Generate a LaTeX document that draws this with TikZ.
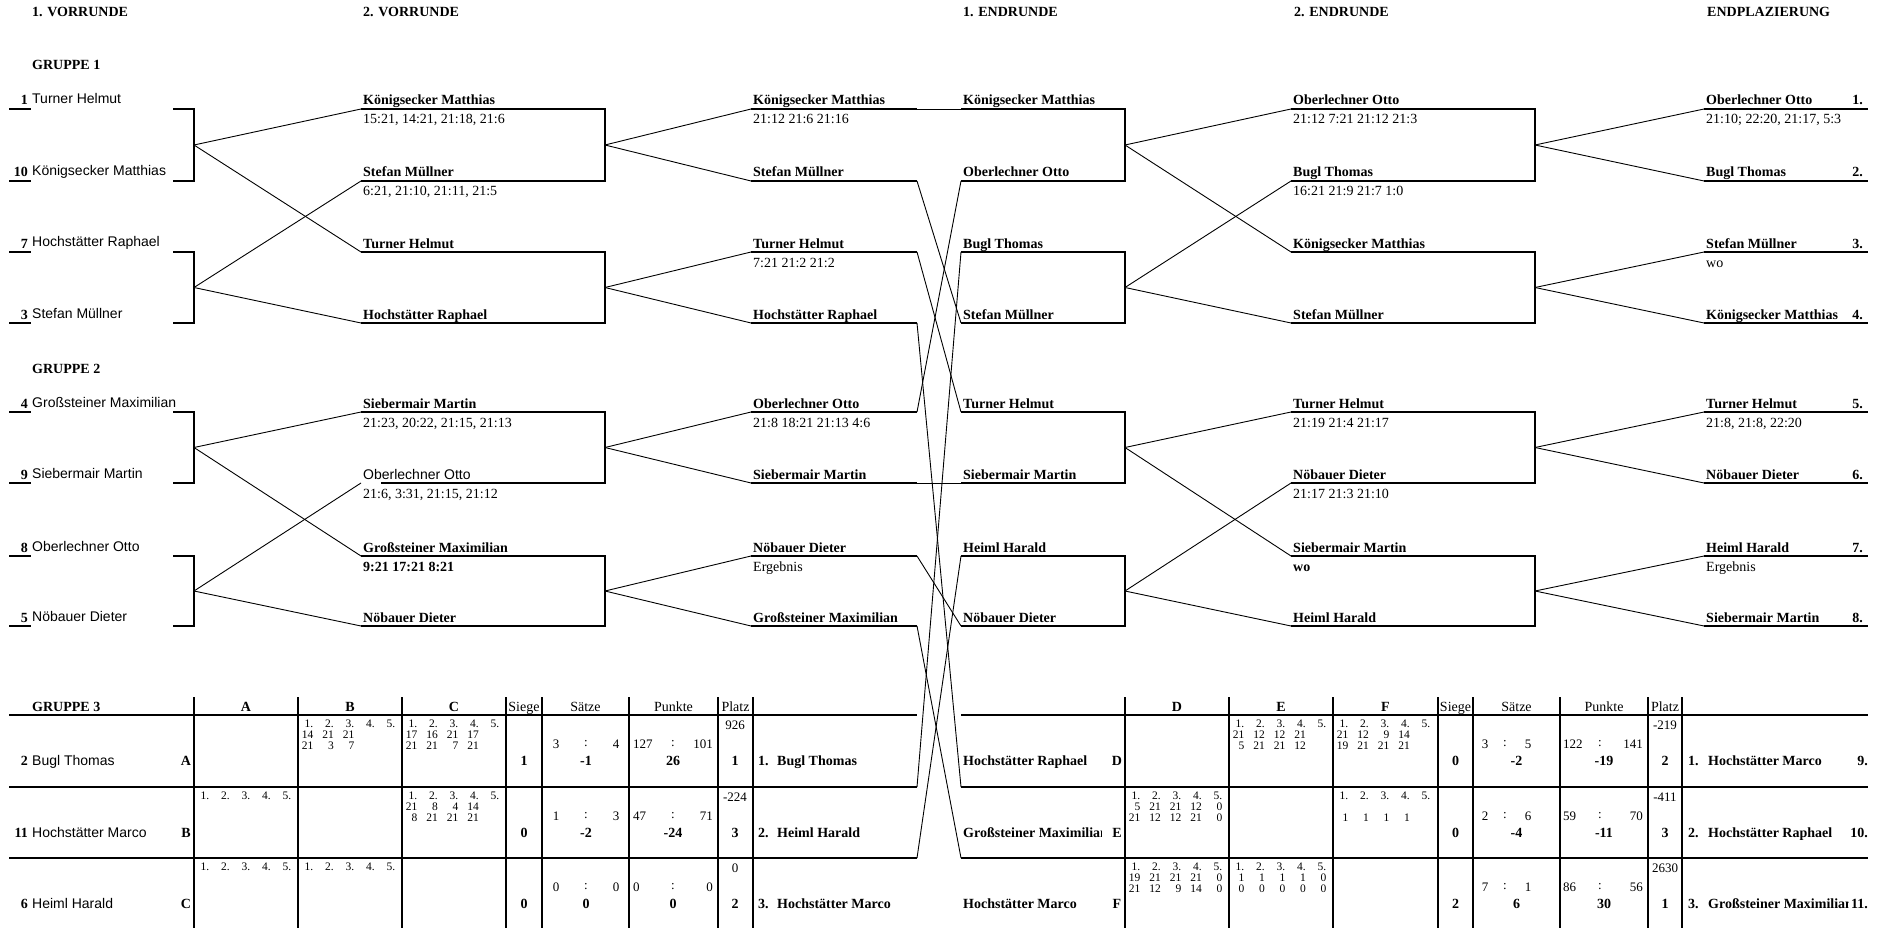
\documentclass[tikz,border=0pt]{standalone}
\usepackage{fontspec}
\setmainfont{Liberation Serif}
\newfontfamily\arialf{Liberation Sans}
\newcommand\fsz{\fontsize{14}{16}\selectfont}
\newcommand\fsm{\fontsize{11.5}{13}\selectfont}
\newcommand\fst{\fontsize{13}{14}\selectfont}
\newcommand\numrow[4]{\foreach \v [count=\k from 0] in {#4}{\node[tn] (#1-\k) at ({#2+15.5+20.5*\k},#3) {\v};}}
\begin{document}
\begin{tikzpicture}[x=1pt,y=-1pt,
 thk/.style={line width=2.8pt},
 thn/.style={line width=0.9pt},
 hd/.style={anchor=base west,inner sep=0pt,font=\fsz\bfseries},
 nm/.style={anchor=base west,inner sep=0pt,font=\fsz\bfseries},
 snm/.style={anchor=base west,inner sep=0pt,font=\fsz\arialf},
 sc/.style={anchor=base west,inner sep=0pt,font=\fsz},
 rk/.style={anchor=base east,inner sep=0pt,font=\fsz\bfseries},
 tn/.style={anchor=east,inner sep=0pt,font=\fsm},
 tv/.style={anchor=center,inner sep=0pt,font=\fst},
 tb/.style={anchor=base,inner sep=0pt,font=\fsz\bfseries},
 th/.style={anchor=base,inner sep=0pt,font=\fsz},
]
\useasboundingbox (0,0) rectangle (1887,928);

% ---------- headers
\node[hd] (h1) at (32,17) {1. VORRUNDE};
\node[hd] (h2) at (363,17) {2. VORRUNDE};
\node[hd] (h3) at (963,17) {1. ENDRUNDE};
\node[hd] (h4) at (1294,17) {2. ENDRUNDE};
\node[hd] (h5) at (1707,17) {ENDPLAZIERUNG};
\node[hd] (g1) at (32,70) {GRUPPE 1};
\node[hd] (g2) at (32,373) {GRUPPE 2};
\node[hd] (g3) at (32,711) {GRUPPE 3};

% ---------- coordinates of line starts
\foreach \y [count=\i] in {109,181,252,323,412,483,556,626}{
  \coordinate (s2-\i) at (361,\y);
  \coordinate (s3-\i) at (751,\y);
  \coordinate (e3-\i) at (917,\y);
  \coordinate (s4-\i) at (961,\y);
  \coordinate (s5-\i) at (1291,\y);
  \coordinate (s6-\i) at (1704,\y);
}

% ---------- column 1
\foreach \y/\n/\t [count=\i] in {109/1/Turner Helmut,181/10/Königsecker Matthias,252/7/Hochstätter Raphael,323/3/Stefan Müllner,412/4/Großsteiner Maximilian,483/9/Siebermair Martin,556/8/Oberlechner Otto,626/5/Nöbauer Dieter}{
  \draw[thk] (9,\y) -- (31,\y);
  \node[rk] (pn\i) at (28,\y-4) {\n};
  \node[snm] (pt\i) at (32,\y-5) {\t};
}
\foreach \a/\b [count=\i] in {109/181,252/323,412/483,556/626}{
  \draw[thk] (173,\a) -- (194,\a) -- (194,\b) -- (173,\b);
  \coordinate (k\i) at (194,{(\a+\b)/2});
}

% ---------- column 2
\draw[thk] (361,109) -- (605,109) -- (605,181) -- (361,181);
\draw[thk] (361,252) -- (605,252) -- (605,323) -- (361,323);
\draw[thk] (361,412) -- (605,412) -- (605,483) -- (381,483);
\draw[thk] (361,556) -- (605,556) -- (605,626) -- (361,626);
\foreach \a/\b [count=\i] in {109/181,252/323,412/483,556/626}{
  \coordinate (m2-\i) at (605,{(\a+\b)/2});
}
\foreach \y/\t [count=\i] in {109/Königsecker Matthias,181/Stefan Müllner,252/Turner Helmut,323/Hochstätter Raphael,412/Siebermair Martin,556/Großsteiner Maximilian,626/Nöbauer Dieter}{
  \node[nm] (n2-\i) at (363,\y-4) {\t};
}
\node[snm] (n2-o) at (363,479) {Oberlechner Otto};
\node[sc] (sc2a) at (363,124) {15:21, 14:21, 21:18, 21:6};
\node[sc] (sc2b) at (363,196) {6:21, 21:10, 21:11, 21:5};
\node[sc] (sc2e) at (363,427) {21:23, 20:22, 21:15, 21:13};
\node[sc] (sc2f) at (363,498) {21:6, 3:31, 21:15, 21:12};
\node[sc,font=\fsz\bfseries] (sc2g) at (363,571) {9:21 17:21 8:21};

\draw[thn] (k1) -- (s2-1);
\draw[thn] (k1) -- (s2-3);
\draw[thn] (k2) -- (s2-2);
\draw[thn] (k2) -- (s2-4);
\draw[thn] (k3) -- (s2-5);
\draw[thn] (k3) -- (s2-7);
\draw[thn] (k4) -- (s2-6);
\draw[thn] (k4) -- (s2-8);

% ---------- column 3
\foreach \y/\t [count=\i] in {109/Königsecker Matthias,181/Stefan Müllner,252/Turner Helmut,323/Hochstätter Raphael,412/Oberlechner Otto,483/Siebermair Martin,556/Nöbauer Dieter,626/Großsteiner Maximilian}{
  \draw[thk] (s3-\i) -- (e3-\i);
  \node[nm] (n3-\i) at (753,\y-4) {\t};
}
\node[sc] (sc3a) at (753,124) {21:12 21:6 21:16};
\node[sc] (sc3c) at (753,267) {7:21 21:2 21:2};
\node[sc] (sc3e) at (753,427) {21:8 18:21 21:13 4:6};
\node[sc] (sc3g) at (753,571) {Ergebnis};

\draw[thn] (m2-1) -- (s3-1);
\draw[thn] (m2-1) -- (s3-2);
\draw[thn] (m2-2) -- (s3-3);
\draw[thn] (m2-2) -- (s3-4);
\draw[thn] (m2-3) -- (s3-5);
\draw[thn] (m2-3) -- (s3-6);
\draw[thn] (m2-4) -- (s3-7);
\draw[thn] (m2-4) -- (s3-8);

% ---------- column 4
\foreach \a/\b [count=\i] in {109/181,252/323,412/483,556/626}{
  \draw[thk] (961,\a) -- (1125,\a) -- (1125,\b) -- (961,\b);
  \coordinate (m4-\i) at (1125,{(\a+\b)/2});
}
\foreach \y/\t [count=\i] in {109/Königsecker Matthias,181/Oberlechner Otto,252/Bugl Thomas,323/Stefan Müllner,412/Turner Helmut,483/Siebermair Martin,556/Heiml Harald,626/Nöbauer Dieter}{
  \node[nm] (n4-\i) at (963,\y-4) {\t};
}

% table attachment points
\coordinate (tA) at (917,787);
\coordinate (tB) at (917,858);
\coordinate (tD) at (961,787);
\coordinate (tE) at (961,858);

\draw[thn] (e3-1) -- (s4-1);
\draw[thn] (e3-2) -- (s4-4);
\draw[thn] (e3-3) -- (s4-5);
\draw[thn] (e3-4) -- (tD);
\draw[thn] (e3-5) -- (s4-2);
\draw[thn] (e3-6) -- (s4-6);
\draw[thn] (e3-7) -- (s4-8);
\draw[thn] (e3-8) -- (tE);
\draw[thn] (tA) -- (s4-3);
\draw[thn] (tB) -- (s4-7);

% ---------- column 5
\foreach \a/\b [count=\i] in {109/181,252/323,412/483,556/626}{
  \draw[thk] (1291,\a) -- (1535,\a) -- (1535,\b) -- (1291,\b);
  \coordinate (m5-\i) at (1535,{(\a+\b)/2});
}
\foreach \y/\t [count=\i] in {109/Oberlechner Otto,181/Bugl Thomas,252/Königsecker Matthias,323/Stefan Müllner,412/Turner Helmut,483/Nöbauer Dieter,556/Siebermair Martin,626/Heiml Harald}{
  \node[nm] (n5-\i) at (1293,\y-4) {\t};
}
\node[sc] (sc5a) at (1293,124) {21:12 7:21 21:12 21:3};
\node[sc] (sc5b) at (1293,196) {16:21 21:9 21:7 1:0};
\node[sc] (sc5e) at (1293,427) {21:19 21:4 21:17};
\node[sc] (sc5f) at (1293,498) {21:17 21:3 21:10};
\node[sc,font=\fsz\bfseries] (sc5g) at (1293,571) {wo};

\draw[thn] (m4-1) -- (s5-1);
\draw[thn] (m4-1) -- (s5-3);
\draw[thn] (m4-2) -- (s5-2);
\draw[thn] (m4-2) -- (s5-4);
\draw[thn] (m4-3) -- (s5-5);
\draw[thn] (m4-3) -- (s5-7);
\draw[thn] (m4-4) -- (s5-6);
\draw[thn] (m4-4) -- (s5-8);

% ---------- column 6
\foreach \y/\t/\r [count=\i] in {109/Oberlechner Otto/1.,181/Bugl Thomas/2.,252/Stefan Müllner/3.,323/Königsecker Matthias/4.,412/Turner Helmut/5.,483/Nöbauer Dieter/6.,556/Heiml Harald/7.,626/Siebermair Martin/8.}{
  \draw[thk] (s6-\i) -- (1868,\y);
  \node[nm] (n6-\i) at (1706,\y-4) {\t};
  \node[rk] (r6-\i) at (1863,\y-4) {\r};
}
\node[sc] (sc6a) at (1706,124) {21:10; 22:20, 21:17, 5:3};
\node[sc] (sc6c) at (1706,267) {wo};
\node[sc] (sc6e) at (1706,427) {21:8, 21:8, 22:20};
\node[sc] (sc6g) at (1706,571) {Ergebnis};

\draw[thn] (m5-1) -- (s6-1);
\draw[thn] (m5-1) -- (s6-2);
\draw[thn] (m5-2) -- (s6-3);
\draw[thn] (m5-2) -- (s6-4);
\draw[thn] (m5-3) -- (s6-5);
\draw[thn] (m5-3) -- (s6-6);
\draw[thn] (m5-4) -- (s6-7);
\draw[thn] (m5-4) -- (s6-8);

% ---------- left table (Gruppe 3)
\foreach \y in {715,787,858}{\draw[thk] (9,\y) -- (917,\y);}
\foreach \x in {194,298,402,506,542,629,718,753}{\draw[thk] (\x,697) -- (\x,928);}
\node[tb] (la) at (246,711) {A};
\node[tb] (lb) at (350,711) {B};
\node[tb] (lc) at (454,711) {C};
\node[th] (ls) at (524,711) {Siege};
\node[th] (lsa) at (585.5,711) {Sätze};
\node[th] (lpu) at (673.5,711) {Punkte};
\node[th] (lpl) at (735.5,711) {Platz};

\foreach \yc/\n/\t/\l [count=\i] in {760/2/Bugl Thomas/A,832/11/Hochstätter Marco/B,903/6/Heiml Harald/C}{
  \node[rk] (ln\i) at (28,\yc+5) {\n};
  \node[snm] (lt\i) at (32,\yc+5) {\t};
  \node[tb] (ll\i) at (186,\yc+5) {\l};
}
\numrow{lAB1}{298}{723.5}{1.,2.,3.,4.,5.}
\numrow{lAB2}{298}{734.5}{14,21,21}
\numrow{lAB3}{298}{745.5}{21,3,7}
\numrow{lAC1}{402}{723.5}{1.,2.,3.,4.,5.}
\numrow{lAC2}{402}{734.5}{17,16,21,17}
\numrow{lAC3}{402}{745.5}{21,21,7,21}
\numrow{lBA1}{194}{796}{1.,2.,3.,4.,5.}
\numrow{lBC1}{402}{796}{1.,2.,3.,4.,5.}
\numrow{lBC2}{402}{807}{21,8,4,14}
\numrow{lBC3}{402}{818}{8,21,21,21}
\numrow{lCA1}{194}{867}{1.,2.,3.,4.,5.}
\numrow{lCB2}{298}{867}{1.,2.,3.,4.,5.}

\foreach \yc/\si/\sa/\sb/\sd/\pa/\pb/\pd/\pt/\pp/\nr/\nt [count=\i] in
 {760/1/3/4/-1/127/101/26/926/1/1./Bugl Thomas,
  832/0/1/3/-2/47/71/-24/-224/3/2./Heiml Harald,
  903/0/0/0/0/0/0/0/0/2/3./Hochstätter Marco}{
  \node[tb] (lsi\i) at (524,\yc+5) {\si};
  \node[tv] (lsa\i) at (556,\yc-16) {\sa};
  \node[tv] (lsc\i) at (586,\yc-16) {:};
  \node[tv] (lsb\i) at (616,\yc-16) {\sb};
  \node[tb] (lsd\i) at (586,\yc+5) {\sd};
  \node[tv,anchor=west] (lpa\i) at (633,\yc-16) {\pa};
  \node[tv] (lpc\i) at (673,\yc-16) {:};
  \node[tv,anchor=east] (lpb\i) at (713,\yc-16) {\pb};
  \node[tb] (lpd\i) at (673,\yc+5) {\pd};
  \node[tv] (lpt\i) at (735,\yc-35) {\pt};
  \node[tb] (lpp\i) at (735,\yc+5) {\pp};
  \node[nm] (lnr\i) at (758,\yc+5) {\nr};
  \node[nm] (lnt\i) at (777,\yc+5) {\nt};
}

% ---------- right table
\foreach \y in {715,787,858}{\draw[thk] (961,\y) -- (1868,\y);}
\foreach \x in {1125,1229,1333,1438,1473,1560,1648,1682}{\draw[thk] (\x,697) -- (\x,928);}
\node[tb] (rd) at (1177,711) {D};
\node[tb] (re) at (1281,711) {E};
\node[tb] (rf) at (1385.5,711) {F};
\node[th] (rs) at (1455.5,711) {Siege};
\node[th] (rsa) at (1516.5,711) {Sätze};
\node[th] (rpu) at (1604,711) {Punkte};
\node[th] (rpl) at (1665,711) {Platz};

\node[nm] (rt1) at (963,765) {Hochstätter Raphael};
\begin{scope}
  \clip (961,790) rectangle (1101,856);
  \node[nm] (rt2) at (963,837) {\makebox[138pt][l]{Großsteiner Maximilian}};
\end{scope}
\node[nm] (rt3) at (963,908) {Hochstätter Marco};
\node[tb] (rl1) at (1117,765) {D};
\node[tb] (rl2) at (1117,837) {E};
\node[tb] (rl3) at (1117,908) {F};

\numrow{rDE1}{1229}{723.5}{1.,2.,3.,4.,5.}
\numrow{rDE2}{1229}{734.5}{21,12,12,21}
\numrow{rDE3}{1229}{745.5}{5,21,21,12}
\numrow{rDF1}{1333}{723.5}{1.,2.,3.,4.,5.}
\numrow{rDF2}{1333}{734.5}{21,12,9,14}
\numrow{rDF3}{1333}{745.5}{19,21,21,21}
\numrow{rED1}{1125}{796}{1.,2.,3.,4.,5.}
\numrow{rED2}{1125}{807}{5,21,21,12,0}
\numrow{rED3}{1125}{818}{21,12,12,21,0}
\numrow{rEF1}{1333}{796}{1.,2.,3.,4.,5.}
\numrow{rEF3}{1333}{818}{1,1,1,1}
\numrow{rFD1}{1125}{867}{1.,2.,3.,4.,5.}
\numrow{rFD2}{1125}{878}{19,21,21,21,0}
\numrow{rFD3}{1125}{889}{21,12,9,14,0}
\numrow{rFE1}{1229}{867}{1.,2.,3.,4.,5.}
\numrow{rFE2}{1229}{878}{1,1,1,1,0}
\numrow{rFE3}{1229}{889}{0,0,0,0,0}

\foreach \yc/\si/\sa/\sb/\sd/\pa/\pb/\pd/\pt/\pp/\nr/\rr [count=\i] in
 {760/0/3/5/-2/122/141/-19/-219/2/1./9.,
  832/0/2/6/-4/59/70/-11/-411/3/2./10.,
  903/2/7/1/6/86/56/30/2630/1/3./11.}{
  \node[tb] (rsi\i) at (1455.5,\yc+5) {\si};
  \node[tv] (rsa\i) at (1485,\yc-16) {\sa};
  \node[tv] (rsc\i) at (1505,\yc-16) {:};
  \node[tv] (rsb\i) at (1528,\yc-16) {\sb};
  \node[tb] (rsd\i) at (1516.5,\yc+5) {\sd};
  \node[tv,anchor=west] (rpa\i) at (1563,\yc-16) {\pa};
  \node[tv] (rpc\i) at (1600,\yc-16) {:};
  \node[tv,anchor=east] (rpb\i) at (1643,\yc-16) {\pb};
  \node[tb] (rpd\i) at (1604,\yc+5) {\pd};
  \node[tv] (rpt\i) at (1665,\yc-35) {\pt};
  \node[tb] (rpp\i) at (1665,\yc+5) {\pp};
  \node[nm] (rnr\i) at (1688,\yc+5) {\nr};
  \node[rk] (rrr\i) at (1868,\yc+5) {\rr};
}
\node[nm] (rnt1) at (1708,765) {Hochstätter Marco};
\node[nm] (rnt2) at (1708,837) {Hochstätter Raphael};
\begin{scope}
  \clip (1700,860) rectangle (1848,928);
  \node[nm] (rnt3) at (1708,908) {\makebox[138pt][l]{Großsteiner Maximilian}};
\end{scope}

\end{tikzpicture}
\end{document}
